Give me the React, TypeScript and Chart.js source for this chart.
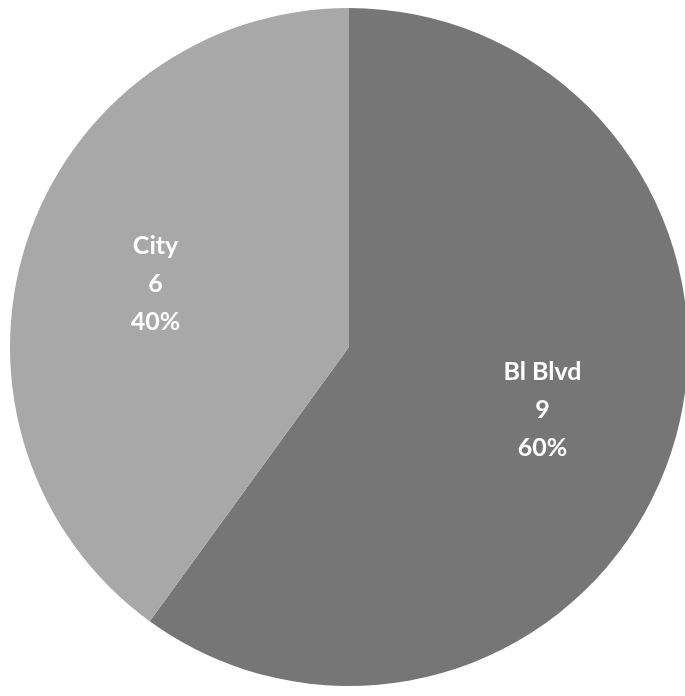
import React, { useEffect, useRef } from "react";
import { Chart, registerables } from "chart.js";

Chart.register(...registerables);

const categories = ["Bl Blvd", "City"];
const values = [9, 6];
const percentLabels = ["60%", "40%"];
const sliceColors = ["#767676", "#a8a8a8"];

const labelPlugin = {
  id: "sliceLabels",
  afterDatasetsDraw(chart: any) {
    const ctx = chart.ctx;
    const meta = chart.getDatasetMeta(0);
    ctx.save();
    ctx.fillStyle = "#ffffff";
    ctx.font = "bold 25px Lato, 'Open Sans', sans-serif";
    ctx.textAlign = "center";
    ctx.textBaseline = "middle";
    meta.data.forEach((arc: any, i: number) => {
      const p = arc.getProps(["x", "y", "startAngle", "endAngle", "outerRadius"], true);
      const mid = (p.startAngle + p.endAngle) / 2;
      const d = p.outerRadius * 0.6;
      const cx = p.x + Math.cos(mid) * d;
      const cy = p.y + Math.sin(mid) * d;
      const lines = [categories[i], String(values[i]), percentLabels[i]];
      const lh = 38;
      lines.forEach((t, k) => {
        ctx.fillText(t, cx, cy + (k - 1) * lh);
      });
    });
    ctx.restore();
  },
};

export default function App() {
  const ref = useRef<HTMLCanvasElement | null>(null);
  useEffect(() => {
    if (!ref.current) return;
    const chart = new Chart(ref.current, {
      type: "pie",
      data: {
        labels: categories,
        datasets: [
          {
            data: values,
            backgroundColor: sliceColors,
            borderWidth: 0,
          },
        ],
      },
      options: {
        animation: false,
        responsive: true,
        maintainAspectRatio: false,
        radius: 339,
        layout: { padding: { left: 13, right: 0, top: 0, bottom: 2 } },
        plugins: {
          legend: { display: false },
          tooltip: { enabled: false },
        },
      } as any,
      plugins: [labelPlugin],
    });
    return () => chart.destroy();
  }, []);
  return (
    <div style={{ position: "fixed", left: 0, top: 0, width: 685, height: 696, background: "#ffffff" }}>
      <canvas ref={ref} />
    </div>
  );
}
